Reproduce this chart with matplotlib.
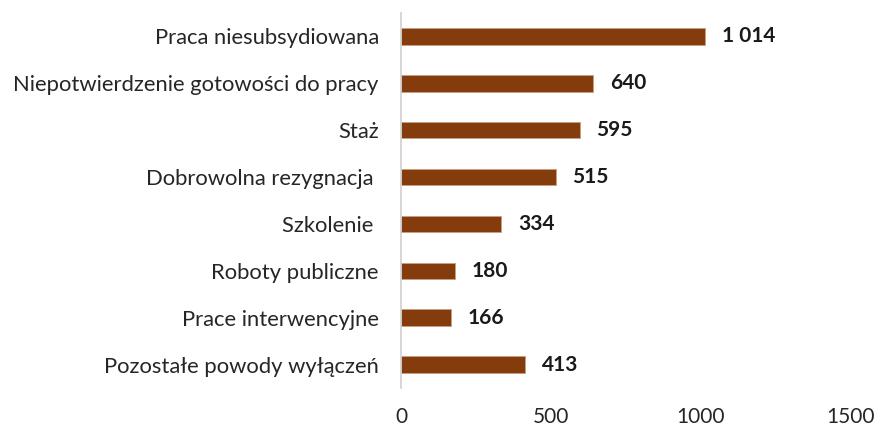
import matplotlib.pyplot as plt

categories = ["Praca niesubsydiowana", "Niepotwierdzenie gotowości do pracy", "Staż",
              "Dobrowolna rezygnacja ", "Szkolenie ", "Roboty publiczne",
              "Prace interwencyjne", "Pozostałe powody wyłączeń"]
values = [1014, 640, 595, 515, 334, 180, 166, 413]
labels = ["1 014", "640", "595", "515", "334", "180", "166", "413"]

plt.rcParams['font.family'] = ['Lato', 'DejaVu Sans']

fig = plt.figure(figsize=(8.8, 4.28), dpi=100)
ax = fig.add_axes([401 / 880, 40 / 428, 450 / 880, 375 / 428])

y = list(range(len(categories)))
ax.barh(y, values, height=0.35, color='#843C0C', edgecolor='#C8A080', linewidth=0.6)

for yi, v, lab in zip(y, values, labels):
    ax.annotate(lab, (v, yi), xytext=(12, 0), textcoords='offset points',
                va='center', ha='left', fontsize=15, fontweight='bold', color='#1a1a1a')

ax.set_ylim(len(categories) - 0.5, -0.5)
ax.set_xlim(0, 1500)
ax.set_xticks([0, 500, 1000, 1500])
ax.set_yticks(y)
ax.set_yticklabels(categories, fontsize=15.8, color='#262626')
ax.tick_params(axis='x', length=0, pad=14, labelsize=15, labelcolor='#262626')
ax.tick_params(axis='y', length=0, pad=16)

for s in ['top', 'right', 'bottom']:
    ax.spines[s].set_visible(False)
ax.spines['left'].set_color('#d0d0d0')
ax.spines['left'].set_linewidth(1.2)

fig.savefig('out.png', dpi=100)
